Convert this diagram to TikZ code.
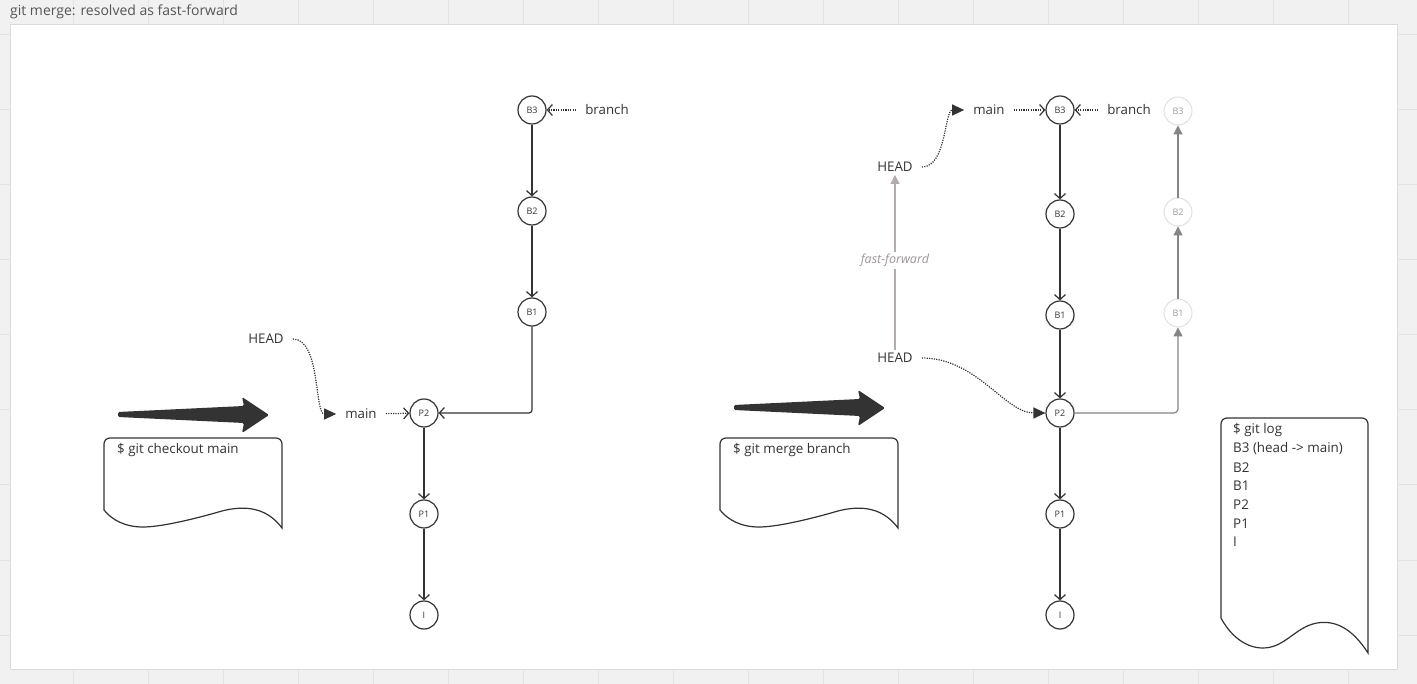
\documentclass[tikz,border=0pt]{standalone}
\usepackage{fontspec}
\setmainfont{Open Sans}
\usetikzlibrary{arrows.meta}

\definecolor{ink}{HTML}{333333}
\definecolor{canvas}{HTML}{F1F1F1}
\definecolor{gridgray}{HTML}{E3E3E3}
\definecolor{panelgray}{HTML}{DADADA}
\definecolor{titlegray}{HTML}{555555}
\definecolor{ghostring}{HTML}{DDDDDD}
\definecolor{ghosttext}{HTML}{9A9A9A}
\definecolor{ghostline}{HTML}{858585}
\definecolor{ffgray}{HTML}{B3ACAC}
\definecolor{fftext}{HTML}{9E9898}

\tikzset{
  commit/.style={circle, draw=ink, line width=1.2pt, minimum size=28pt, inner sep=0pt, text=ink, font=\fontsize{9}{10}\selectfont},
  ghostcommit/.style={commit, draw=ghostring, line width=0.9pt, text=ghosttext},
  refname/.style={inner xsep=9pt, inner ysep=3pt, text=ink, font=\fontsize{13.3}{15}\selectfont},
  parentedge/.style={draw=ink, line width=1.2pt, -{Straight Barb[length=5pt,width=11pt,line width=1.2pt]}},
  refedge/.style={parentedge, dash pattern=on 1.2pt off 1.2pt},
  headedge/.style={draw=ink, line width=1.2pt, dash pattern=on 1.2pt off 1.2pt, -{Triangle[length=12pt,width=11pt]}},
  ghostedge/.style={draw=ghostline, line width=1.2pt, rounded corners=4pt, -{Triangle[length=9pt,width=9pt]}},
  ffedge/.style={draw=ffgray, line width=1.2pt, -{Triangle[length=9pt,width=9pt]}},
  cmdtext/.style={anchor=west, inner sep=3pt, text=ink, font=\fontsize{13.4}{16}\selectfont},
  doc/.style={draw=ink, line width=1.2pt, fill=white},
  gridline/.style={draw=gridgray, line width=1pt},
}

\begin{document}
\begin{tikzpicture}[x=1pt, y=-1pt, >=latex]
    \def\shiftR{616}

    % canvas and grid
    \fill[canvas] (0,0) rectangle (1417,684);
    \useasboundingbox (0,0) rectangle (1417,684);
    \foreach \gx in {73,148,...,1423} \draw[gridline] (\gx,0) -- (\gx,684);
    \foreach \gy in {35,110,...,635} \draw[gridline] (0,\gy) -- (1417,\gy);
    \filldraw[fill=white, draw=panelgray, line width=1pt] (10,25) rectangle (1397,669);
    \node[anchor=west, inner sep=3pt, text=titlegray, font=\fontsize{14}{16}\selectfont] (title) at (7,12) {git merge: resolved as fast-forward};

    % step 1: checkout
    \fill[ink, rounded corners=1.5pt] (118,412) -- (244,406) -- (242,397) -- (269,415) -- (242,433) -- (244,423) -- (118,417) -- cycle;
    \draw[doc] (104,510) -- (104,444) arc (180:270:6) -- (276,438) arc (270:360:6) -- (282,528)
        .. controls (265,505) and (240,505) .. (215,513) .. controls (190,520) and (160,527) .. (143,527)
        .. controls (125,527) and (112,520) .. (104,510) -- cycle;
    \node[cmdtext] (cmdL) at (114,450) {\$ git checkout main};

    \node[commit] (B3) at (532,110) {B3};
    \node[commit] (B2) at (532,211) {B2};
    \node[commit] (B1) at (532,312) {B1};
    \node[commit] (P2) at (424,413) {P2};
    \node[commit] (P1) at (424,514) {P1};
    \node[commit] (I)  at (424,615) {I};

    \node[refname] (branch) at (607,110) {branch};
    \node[refname] (main)   at (361,414) {main};
    \node[refname] (head)   at (266,339) {HEAD};

    \draw[parentedge] (B3) -- (B2);
    \draw[parentedge] (B2) -- (B1);
    \draw[parentedge, rounded corners=3pt] (B1) |- (P2);
    \draw[parentedge] (P2) -- (P1);
    \draw[parentedge] (P1) -- (I);
    \draw[refedge] (branch) -- (B3);
    \draw[refedge] (main) -- (P2);
    \draw[headedge] (head.east) .. controls +(28,0) and +(-22,0) .. (main.west);

    % step 2: merge
    \begin{scope}[xshift=\shiftR pt, yshift=7pt]
        \fill[ink, rounded corners=1.5pt] (118,412) -- (244,406) -- (242,397) -- (269,415) -- (242,433) -- (244,423) -- (118,417) -- cycle;
    \end{scope}
    \begin{scope}[xshift=\shiftR pt]
        \draw[doc] (104,510) -- (104,444) arc (180:270:6) -- (276,438) arc (270:360:6) -- (282,528)
            .. controls (265,505) and (240,505) .. (215,513) .. controls (190,520) and (160,527) .. (143,527)
            .. controls (125,527) and (112,520) .. (104,510) -- cycle;
        \node[cmdtext] (cmdR) at (114,450) {\$ git merge branch};
    \end{scope}

    \node[commit] (mB3) at (1060,110) {B3};
    \node[commit] (mB2) at (1060,214) {B2};
    \node[commit] (mB1) at (1060,315) {B1};
    \node[commit] (mP2) at (1060,413) {P2};
    \node[commit] (mP1) at (1060,514) {P1};
    \node[commit] (mI)  at (1060,615) {I};

    \node[ghostcommit] (gB3) at (1178,111) {B3};
    \node[ghostcommit] (gB2) at (1178,212) {B2};
    \node[ghostcommit] (gB1) at (1178,313) {B1};

    \node[refname] (mbranch) at (1129,110) {branch};
    \node[refname] (mmain)   at (989,110) {main};
    \node[refname] (headNew) at (895,167) {HEAD};
    \node[refname] (headOld) at (895,358) {HEAD};

    \draw[parentedge] (mB3) -- (mB2);
    \draw[parentedge] (mB2) -- (mB1);
    \draw[parentedge] (mB1) -- (mP2);
    \draw[parentedge] (mP2) -- (mP1);
    \draw[parentedge] (mP1) -- (mI);
    \draw[refedge] (mmain) -- (mB3);
    \draw[refedge] (mbranch) -- (mB3);
    \draw[headedge] (headNew.east) .. controls +(25,0) and +(-20,0) .. (mmain.west);
    \draw[headedge] (headOld.east) .. controls +(55,0) and +(-55,0) .. (mP2);

    \draw[ghostedge] (mP2) -| (gB1);
    \draw[ghostedge] (gB1) -- (gB2);
    \draw[ghostedge] (gB2) -- (gB3);

    \draw[ffedge] (headOld.north) -- (headNew.south)
        node[midway, yshift=2pt, fill=white, inner sep=2pt, text=fftext, font=\fontsize{12.5}{14}\selectfont\itshape] (ff) {fast-forward};

    % git log
    \draw[doc] (1221,618) -- (1221,424) arc (180:270:6) -- (1362,418) arc (270:360:6) -- (1368,653)
        .. controls (1352,628) and (1335,620) .. (1317,623) .. controls (1295,627) and (1285,648) .. (1263,648)
        .. controls (1245,648) and (1230,635) .. (1221,618) -- cycle;
    \foreach \entry [count=\i] in {{\$ git log}, {B3 (head -> main)}, B2, B1, P2, P1, I}
        \node[cmdtext] (log\i) at (1230, 411.3+18.7*\i) {\entry};
\end{tikzpicture}
\end{document}
